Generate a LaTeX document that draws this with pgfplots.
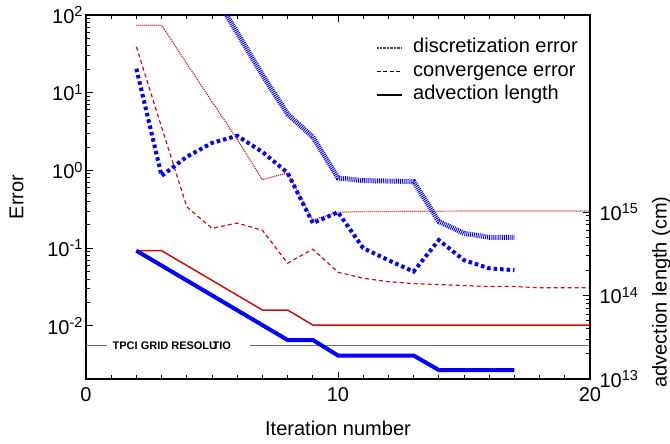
\documentclass[border=0pt]{standalone}
\usepackage{fontspec}
\setmainfont{Liberation Sans}
\usepackage{pgfplots}
\pgfplotsset{compat=1.18}
\definecolor{darkred}{RGB}{200,16,16}
\definecolor{tpcigray}{RGB}{110,110,110}
\newcommand\sups[1]{\raisebox{6.5pt}{\fontsize{14.5}{15}\selectfont #1}}
\newcommand\bigfont{\fontsize{20}{24}\selectfont}
\tikzset{tk/.style={black, line width=1pt}}

\begin{document}
\begin{tikzpicture}

% left axis: errors
\begin{axis}[
    width=504pt, height=364pt, scale only axis,
    at={(86pt,65pt)}, anchor=south west,
    xmin=0, xmax=20, ymode=log,
    ymin=0.00207, ymax=100,
    axis line style={line width=1.2pt},
    major tick length=0pt, minor tick length=0pt,
    tick label style={font=\bigfont},
    label style={font=\bigfont},
    xtick={0,10,20}, xticklabels={0,10,20},
    ytick={0.01,0.1,1,10,100},
    yticklabels={10\sups{-2},10\sups{-1},10\sups{0},10\sups{1},10\sups{2}},
    minor tick num=0,
    xtick pos=left, ytick pos=left,
    xticklabel style={yshift=-5pt},
    xlabel={Iteration number}, ylabel={Error},
    xlabel style={at={(axis description cs:0.5,-0.135)}, anchor=center},
    ylabel style={at={(axis description cs:-0.1375,0.5)}, anchor=center},
    legend cell align=left,
    legend image code/.code={\draw[#1] (0pt,0pt) -- (25pt,0pt);},
    legend style={at={(0.978,0.938)}, anchor=north east, draw=none, fill=none,
        inner sep=0pt, font=\bigfont, row sep=3.5pt,
        nodes={inner sep=1pt, text height=14pt, text depth=4pt},
        /tikz/every odd column/.append style={column sep=9pt}},
]
\addlegendimage{black!70, line width=2.5pt, dash pattern=on 0.7pt off 0.7pt}
\addlegendentry{discretization error}
\addlegendimage{black, line width=1.5pt, dash pattern=on 4pt off 2.5pt}
\addlegendentry{convergence error}
\addlegendimage{black, line width=2.5pt}
\addlegendentry{advection length}

% tick marks, inside the frame
\pgfplotsinvokeforeach{1,2,3,4,5,6,7,8,9,11,12,13,14,15,16,17,18,19}{
  \draw[tk] (axis cs:#1,0.00207) -- ++(0pt,4pt);
  \draw[tk] (axis cs:#1,100) -- ++(0pt,-4pt);
}
\draw[tk] (axis cs:10,0.00207) -- ++(0pt,7pt);
\draw[tk] (axis cs:10,100) -- ++(0pt,-7pt);
\pgfplotsinvokeforeach{0.01,0.1,1,10}{
  \draw[tk] (axis cs:0,#1) -- ++(7pt,0pt);
}
\pgfplotsinvokeforeach{0.02,0.03,0.04,0.05,0.06,0.07,0.08,0.09,
    0.2,0.3,0.4,0.5,0.6,0.7,0.8,0.9,2,3,4,5,6,7,8,9,20,30,40,50,60,70,80,90}{
  \draw[tk] (axis cs:0,#1) -- ++(4pt,0pt);
}

% discretization error, red
\addplot[forget plot, darkred, line width=1.2pt, dash pattern=on 1pt off 1pt] coordinates {
  (2,74)(3,74)(4,23.7)(5,7.7)(6,2.5)(7,0.76)(8,0.93)(9,0.23)(10,0.29)
  (11,0.295)(12,0.297)(13,0.298)(14,0.299)(15,0.30)(16,0.30)(17,0.30)
  (18,0.30)(19,0.30)(20,0.30)
};
% convergence error, red
\addplot[forget plot, darkred, line width=1.2pt, dash pattern=on 4pt off 3pt] coordinates {
  (2,39)(3,3.6)(4,0.34)(5,0.18)(6,0.21)(7,0.17)(8,0.064)(9,0.097)(10,0.049)
  (11,0.041)(12,0.037)(13,0.035)(14,0.034)(15,0.033)(16,0.032)(17,0.032)
  (18,0.031)(19,0.031)(20,0.031)
};
% discretization error, blue
\addplot[forget plot, blue, line width=5pt, dash pattern=on 0.9pt off 1pt] coordinates {
  (5,204)(6,59)(7,17)(8,5.3)(9,2.7)(10,0.8)(11,0.74)(12,0.73)(13,0.72)
  (14,0.22)(15,0.155)(16,0.138)(17,0.138)
};
% convergence error, blue
\addplot[forget plot, blue, line width=4pt, dash pattern=on 3.5pt off 3pt] coordinates {
  (2,20.4)(3,0.85)(4,1.5)(5,2.26)(6,2.79)(7,1.73)(8,0.93)(9,0.21)(10,0.29)
  (11,0.10)(12,0.07)(13,0.05)(14,0.127)(15,0.07)(16,0.055)(17,0.052)
};
\end{axis}

% right axis: advection length
\begin{axis}[
    width=504pt, height=364pt, scale only axis,
    at={(86pt,65pt)}, anchor=south west,
    xmin=0, xmax=20, ymode=log,
    ymin=1e13, ymax=2.29e17,
    axis y line*=right, axis x line=none,
    axis line style={line width=1.2pt},
    major tick length=0pt, minor tick length=0pt,
    tick label style={font=\bigfont},
    label style={font=\bigfont},
    ytick={1e13,1e14,1e15},
    yticklabels={10\sups{13},10\sups{14},10\sups{15}},
    minor tick num=0,
    yticklabel style={xshift=6pt},
    ylabel={advection length (cm)},
    ylabel style={at={(axis description cs:1.142,0.239)}, anchor=center},
]
\draw[tk] (axis cs:20,1e14) -- ++(-7pt,0pt);
\draw[tk] (axis cs:20,1e15) -- ++(-7pt,0pt);
\pgfplotsinvokeforeach{2e13,3e13,4e13,5e13,6e13,7e13,8e13,9e13,
    2e14,3e14,4e14,5e14,6e14,7e14,8e14,9e14}{
  \draw[tk] (axis cs:20,#1) -- ++(-4pt,0pt);
}

\addplot[tpcigray, line width=1.2pt] coordinates {(0,2.5e13)(0.83,2.5e13)};
\addplot[tpcigray, line width=1.2pt] coordinates {(6.5,2.5e13)(20,2.5e13)};
\node[anchor=west, inner sep=0pt, font=\fontsize{11}{11}\selectfont\bfseries]
  at (axis cs:1.05,2.5e13) {TPCI GRID RESOLU\kern-0.42em TIO};

\addplot[darkred, line width=1.5pt] coordinates {
  (2,3.44e14)(3,3.44e14)(7,6.7e13)(8,6.7e13)(9,4.43e13)(20,4.43e13)
};
\addplot[blue, line width=4pt] coordinates {
  (2,3.44e14)(8,2.93e13)(9,2.93e13)(10,1.91e13)(13,1.91e13)(14,1.28e13)(17,1.28e13)
};
\end{axis}

\pgfresetboundingbox
\useasboundingbox (0,0) rectangle (670pt,444pt);
\end{tikzpicture}
\end{document}
